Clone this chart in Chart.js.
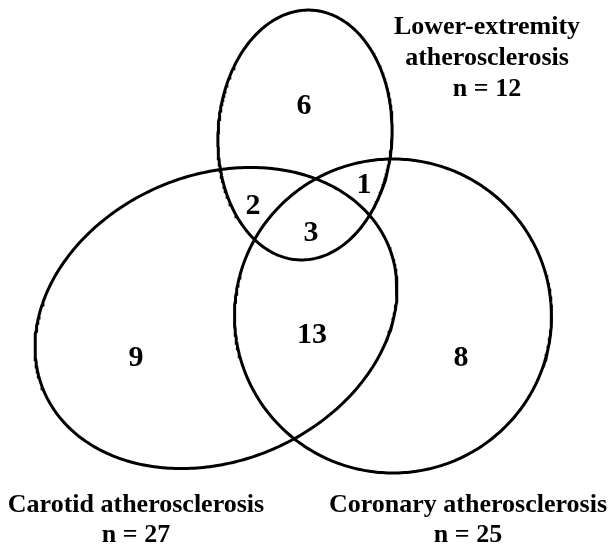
<!DOCTYPE html>
<html>
<head>
<meta charset="utf-8">
<script src="https://cdn.jsdelivr.net/npm/chart.js@4"></script>
<style>
  html, body { margin: 0; padding: 0; background: #ffffff; }
  #wrap { width: 612px; height: 546px; }
</style>
</head>
<body>
<div id="wrap"><canvas id="c" width="612" height="546"></canvas></div>
<script>
// ---- Data ----
const setNames = ['Lower-extremity atherosclerosis', 'Carotid atherosclerosis', 'Coronary atherosclerosis'];
const setTotals = [12, 27, 25];
const regionNames = ['Lower-extremity only', 'Lower-extremity & Carotid', 'Lower-extremity & Coronary',
                     'All three', 'Carotid only', 'Carotid & Coronary', 'Coronary only'];
const regionCounts = [6, 2, 1, 3, 9, 13, 8];

// ---- Layout (diagram units, separate from data) ----
const ellipseCx = [305, 216, 393];
const ellipseCy = [135, 318, 316];
const ellipseRx = [87, 187, 158.5];
const ellipseRy = [125, 143, 157];
const ellipseRot = [-3, 23, 0]; // degrees (counter-clockwise, screen)
const regionX = [304, 253, 364, 311, 136, 312, 461];
const regionY = [106, 206, 185, 233, 358, 335, 358];
const setLabelLines = [
  [setNames[0].split(' ')[0], setNames[0].split(' ')[1], 'n = ' + setTotals[0]],
  [setNames[1], 'n = ' + setTotals[1]],
  [setNames[2], 'n = ' + setTotals[2]]
];
const setLabelX = [487, 136, 468];
const setLabelY = [[27, 58, 89], [505, 535], [505, 535]];

function ellipsePoints(i) {
  const pts = [];
  const n = 360;
  const t = ellipseRot[i] * Math.PI / 180;
  for (let k = 0; k <= n; k++) {
    const a = 2 * Math.PI * k / n;
    const ex = ellipseRx[i] * Math.cos(a);
    const ey = ellipseRy[i] * Math.sin(a);
    pts.push({
      x: ellipseCx[i] + ex * Math.cos(t) + ey * Math.sin(t),
      y: ellipseCy[i] - ex * Math.sin(t) + ey * Math.cos(t)
    });
  }
  return pts;
}

const datasets = setNames.map((name, i) => ({
  label: name,
  data: ellipsePoints(i),
  showLine: true,
  fill: false,
  borderColor: '#000000',
  borderWidth: 3,
  pointRadius: 0,
  pointHoverRadius: 0,
  tension: 0
}));

const textPlugin = {
  id: 'vennText',
  afterDatasetsDraw(chart) {
    const ctx = chart.ctx;
    const xs = chart.scales.x, ys = chart.scales.y;
    ctx.save();
    ctx.fillStyle = '#000000';
    ctx.textAlign = 'center';
    ctx.textBaseline = 'middle';
    ctx.font = 'bold 30px "Liberation Serif"';
    regionCounts.forEach((v, i) => {
      ctx.fillText(String(v), xs.getPixelForValue(regionX[i]), ys.getPixelForValue(regionY[i]));
    });
    ctx.font = 'bold 26px "Liberation Serif"';
    setLabelLines.forEach((lines, i) => {
      lines.forEach((ln, j) => {
        ctx.fillText(ln, xs.getPixelForValue(setLabelX[i]), ys.getPixelForValue(setLabelY[i][j]));
      });
    });
    ctx.restore();
  }
};

new Chart(document.getElementById('c'), {
  type: 'scatter',
  data: { datasets },
  options: {
    responsive: false,
    animation: false,
    events: [],
    layout: { padding: 0 },
    plugins: { legend: { display: false }, tooltip: { enabled: false } },
    scales: {
      x: { type: 'linear', min: 0, max: 612, display: false },
      y: { type: 'linear', min: 0, max: 546, reverse: true, display: false }
    }
  },
  plugins: [textPlugin]
});
</script>
</body>
</html>
